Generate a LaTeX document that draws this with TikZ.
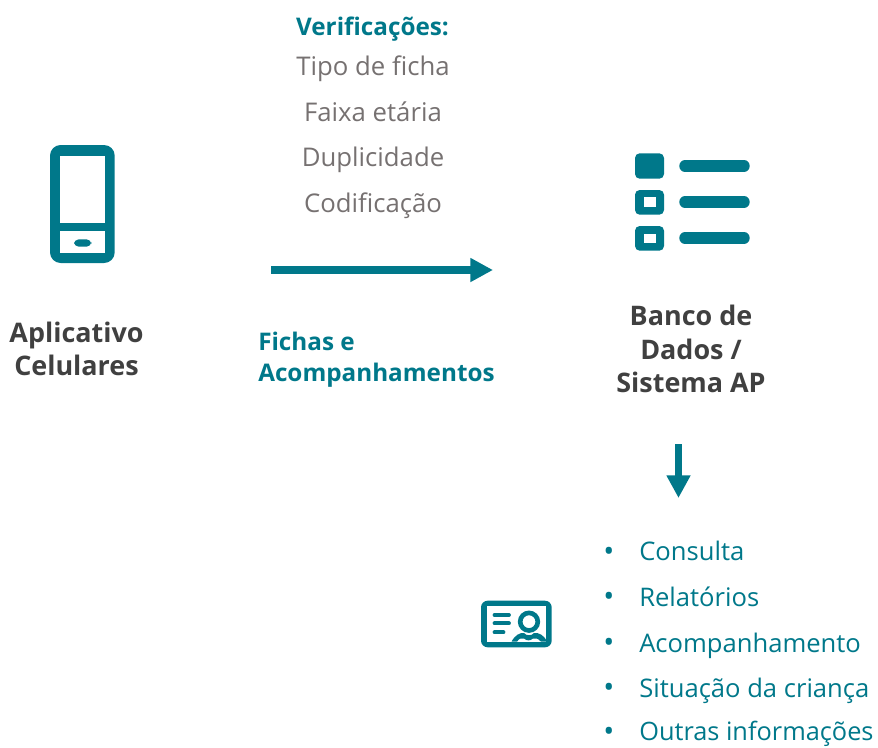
\documentclass[tikz,border=0pt]{standalone}
\usepackage{fontspec}
\setmainfont{Open Sans}
\usetikzlibrary{arrows.meta}
\definecolor{teal1}{HTML}{00788A}
\definecolor{grey1}{HTML}{767171}
\definecolor{dark1}{HTML}{404040}
\tikzset{
  x=0.75pt,y=-0.75pt,
  icon/.style={fill=teal1,draw=none},
  hole/.style={fill=white,draw=none},
  flow/.style={draw=teal1,line width=5.8pt,-{Triangle[length=17pt,width=17pt]}},
  bar/.style={draw=teal1,line width=8.6pt,line cap=round},
  title/.style={font=\fontsize{20.2}{25}\selectfont\bfseries,text=dark1,align=center,inner sep=0pt},
  tealhead/.style={font=\fontsize{18.2}{23.4}\selectfont\bfseries,text=teal1,align=left,inner sep=0pt},
  check/.style={font=\fontsize{19.3}{22}\selectfont,text=grey1,inner sep=0pt,anchor=base},
  item/.style={font=\fontsize{19.2}{22}\selectfont,text=teal1,anchor=base west,inner sep=0pt},
  dot/.style={font=\fontsize{22}{22}\selectfont,text=teal1,anchor=base,inner sep=0pt},
}
\begin{document}
\begin{tikzpicture}
\useasboundingbox (0,0) rectangle (878,747);
% phone
\fill[icon,rounded corners=8] (50,145) rectangle (114.7,263);
\fill[hole] (60,155.7) rectangle (105,223);
\fill[hole] (60,231) rectangle (105,253);
\fill[icon,rounded corners=3.6] (74,239.3) rectangle (91.3,246.7);
\node[title] (app) at (76.5,349) {Aplicativo\\Celulares};
% checks
\node[tealhead,anchor=base] (ver) at (372.5,35) {Verificações:};
\node[check] (c1) at (373,75.5) {Tipo de ficha};
\node[check] (c2) at (373,121.7) {Faixa etária};
\node[check] (c3) at (373,166.5) {Duplicidade};
\node[check] (c4) at (373,212.7) {Codificação};
% main arrow
\coordinate (a1) at (271,270);
\coordinate (a2) at (493,270);
\draw[flow] (a1) -- (a2);
\node[tealhead,anchor=west] (fichas) at (258,359.5) {Fichas e\\Acompanhamentos};
% list icon
\fill[icon,rounded corners=3.5] (635,153.3) rectangle (664,178.7);
\fill[icon,rounded corners=3.5] (635,190) rectangle (664,214.7);
\fill[hole] (644.3,197.3) rectangle (656,206.7);
\fill[icon,rounded corners=3.5] (635,226) rectangle (664,250.7);
\fill[hole] (644.3,234) rectangle (656,243.3);
\draw[bar] (685,166) -- (744,166);
\draw[bar] (685,202) -- (744,202);
\draw[bar] (685,238) -- (744,238);
\node[title] (db) at (691,349) {Banco de\\Dados /\\Sistema AP};
% down arrow
\coordinate (b1) at (678.5,444);
\coordinate (b2) at (678.5,498);
\draw[flow] (b1) -- (b2);
% card icon
\fill[icon,rounded corners=5] (481,600.7) rectangle (551.7,647.3);
\fill[hole] (486.7,606) rectangle (546,641.7);
\draw[teal1,line width=2.8pt,line cap=round] (494.5,615) -- (509,615);
\draw[teal1,line width=2.8pt,line cap=round] (494.5,623.3) -- (509,623.3);
\draw[teal1,line width=2.8pt,line cap=round] (494.5,632.3) -- (503.5,632.3);
\draw[teal1,line width=3.5pt] (529,621.7) circle (8.8);
\fill[icon] (511.5,641.7) .. controls (515,635) and (520,632.5) .. (524,633) .. controls (526,636) and (532,636) .. (534,633) .. controls (539,632.5) and (544,635) .. (547,641.7) -- (541,641.7) .. controls (538,638) and (535,638) .. (533,638.5) .. controls (530,641) and (527,641) .. (524,638.5) .. controls (522,638) and (519,638) .. (517,641.7) -- cycle;
% bullets
\node[dot] (d1) at (609,561) {•};
\node[dot] (d2) at (609,606.5) {•};
\node[dot] (d3) at (609,652.5) {•};
\node[dot] (d4) at (609,697.5) {•};
\node[dot] (d5) at (609,741) {•};
\node[item] (i1) at (639,560.3) {Consulta};
\node[item] (i2) at (639,606.7) {Relatórios};
\node[item] (i3) at (639,652.2) {Acompanhamento};
\node[item] (i4) at (639,697.7) {Situação da criança};
\node[item,font=\fontsize{19}{22}\selectfont] (i5) at (639,740.6) {Outras informações};
\end{tikzpicture}
\end{document}
